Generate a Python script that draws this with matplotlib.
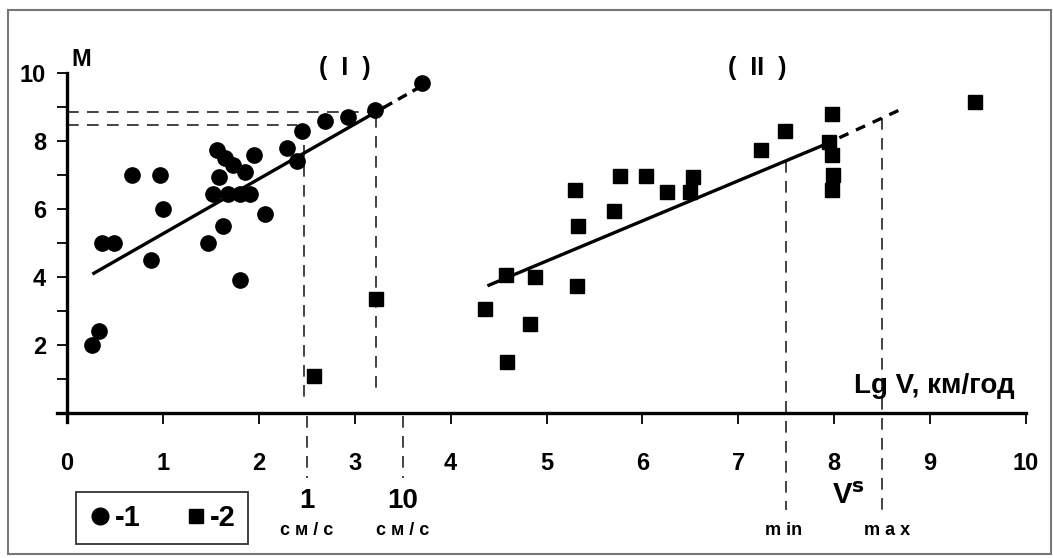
import matplotlib
matplotlib.use("Agg")
import matplotlib.pyplot as plt
from matplotlib.lines import Line2D
from matplotlib.patches import Rectangle

plt.rcParams['font.family'] = ['Liberation Sans Narrow', 'Liberation Sans', 'DejaVu Sans']
plt.rcParams['font.weight'] = 'bold'

# series 1 - circles
x1 = [0.26, 0.33, 0.36, 0.49, 0.68, 0.97, 1.0, 0.88, 1.47, 1.63, 1.56, 1.65, 1.73, 1.86,
      1.95, 1.58, 1.52, 1.68, 1.8, 1.91, 2.06, 1.8, 2.29, 2.4, 2.45, 2.69, 2.93, 3.21, 3.7]
y1 = [2.0, 2.4, 5.0, 5.0, 7.0, 7.0, 6.0, 4.5, 5.0, 5.5, 7.75, 7.5, 7.3, 7.1,
      7.6, 6.95, 6.45, 6.45, 6.45, 6.45, 5.85, 3.9, 7.8, 7.4, 8.3, 8.6, 8.7, 8.9, 9.7]

# series 2 - squares
x2 = [2.58, 3.22, 4.36, 4.58, 4.88, 4.83, 4.59, 5.32, 5.3, 5.33, 5.7, 5.77, 6.04, 6.26,
      6.53, 6.5, 7.24, 7.49, 7.98, 7.95, 7.98, 7.99, 7.98, 9.47]
y2 = [1.1, 3.35, 3.06, 4.05, 4.0, 2.62, 1.5, 3.75, 6.55, 5.5, 5.95, 6.97, 6.97, 6.5,
      6.94, 6.5, 7.75, 8.3, 8.78, 7.96, 7.58, 7.0, 6.56, 9.15]

# regression lines (solid part, dashed extension)
fit1_x = [0.28, 3.3]
fit1_y = [4.11, 8.98]
ext1_x = [3.3, 3.65]
ext1_y = [8.98, 9.54]
fit2_x = [4.4, 7.88]
fit2_y = [3.76, 7.87]
ext2_x = [7.88, 8.71]
ext2_y = [7.87, 8.95]

xticks = list(range(0, 11))
yticks = list(range(1, 11))
ylabels = [str(v) if v % 2 == 0 else '' for v in yticks]

W, H = 1053, 558
fig = plt.figure(figsize=(W / 100, H / 100), dpi=100)
ax = fig.add_axes([67 / W, (H - 413) / H, (1026 - 67) / W, (413 - 73) / H])
ax.set_xlim(0, 10)
ax.set_ylim(0, 10)

for s in ['top', 'right']:
    ax.spines[s].set_visible(False)
for s in ['left', 'bottom']:
    ax.spines[s].set_linewidth(2.4)
ax.spines['bottom'].set_bounds(-0.1, 10)
ax.spines['left'].set_bounds(-0.25, 10)
for sp in ax.spines.values():
    sp.set_clip_on(False)

ax.set_xticks(xticks)
ax.set_yticks(yticks)
ax.set_yticklabels(ylabels)
ax.tick_params(axis='x', direction='out', length=8, width=1.3, pad=20, labelsize=17)
ax.tick_params(axis='y', direction='out', length=7, width=1.3, pad=8, labelsize=17)

dash = dict(color='#222222', lw=1.2, ls=(0, (7, 5)), clip_on=False)
# horizontal guides
ax.plot([0, 2.4], [8.48, 8.48], **dash)
ax.plot([0, 3.22], [8.86, 8.86], **dash)
# vertical guides in region I
ax.plot([2.47, 2.47], [7.87, 0.4], **dash)
ax.plot([3.22, 3.22], [8.75, 0.55], **dash)
ax.plot([2.5, 2.5], [-0.1, -1.9], **dash)
ax.plot([3.5, 3.5], [-0.1, -1.9], **dash)
# vertical guides in region II
ax.plot([7.5, 7.5], [7.4, -2.85], **dash)
ax.plot([8.5, 8.5], [8.69, -2.85], **dash)

ax.plot(fit1_x, fit1_y, color='black', lw=2.4)
ax.plot(ext1_x, ext1_y, color='black', lw=2.4, ls=(0, (3, 2)), clip_on=False)
ax.plot(fit2_x, fit2_y, color='black', lw=2.4)
ax.plot(ext2_x, ext2_y, color='black', lw=2.4, ls=(0, (3, 2.5)), clip_on=False)

ax.plot(x1, y1, 'o', color='black', ms=11, ls='none', clip_on=False, zorder=5)
ax.plot(x2, y2, 's', color='black', ms=9.5, ls='none', clip_on=False, zorder=5)

ax.text(0.05, 10.4, 'M', fontsize=17, ha='left', va='center')
ax.text(2.9, 10.15, '(  I  )', fontsize=18, ha='center', va='center')
ax.text(7.2, 10.15, '(  II  )', fontsize=18, ha='center', va='center')
ax.text(9.88, 0.8, 'Lg V, км/год', fontsize=20, ha='right', va='center')

ax.text(2.5, -2.6, '1', fontsize=20, ha='center', va='center', clip_on=False)
ax.text(2.5, -3.45, 'с м / с', fontsize=13, ha='center', va='center', clip_on=False)
ax.text(3.5, -2.6, '10', fontsize=20, ha='center', va='center', clip_on=False)
ax.text(3.5, -3.45, 'с м / с', fontsize=13, ha='center', va='center', clip_on=False)
ax.text(8.15, -2.45, r'V$^{\mathbf{s}}$', fontsize=21, ha='center', va='center')
ax.text(7.47, -3.45, 'm in', fontsize=13, ha='center', va='center')
ax.text(8.55, -3.45, 'm a x', fontsize=13, ha='center', va='center')

handles = [Line2D([], [], marker='o', color='black', ls='none', ms=12),
           Line2D([], [], marker='s', color='black', ls='none', ms=10)]
leg = fig.legend(handles, ['-1', '-2'], ncol=2, loc='center',
                 bbox_to_anchor=(162 / W, 1 - 518 / H), fontsize=21,
                 fancybox=False, frameon=True, edgecolor='black',
                 handlelength=0.8, handletextpad=0.1, columnspacing=1.5,
                 borderpad=0.4, borderaxespad=0)
leg.get_frame().set_linewidth(1.3)

fig.patches.append(Rectangle((8 / W, 4 / H), 1 - 10 / W, 1 - 14 / H,
                             transform=fig.transFigure, fill=False,
                             edgecolor='#777777', lw=1.5))

fig.savefig('out.png', dpi=100)
